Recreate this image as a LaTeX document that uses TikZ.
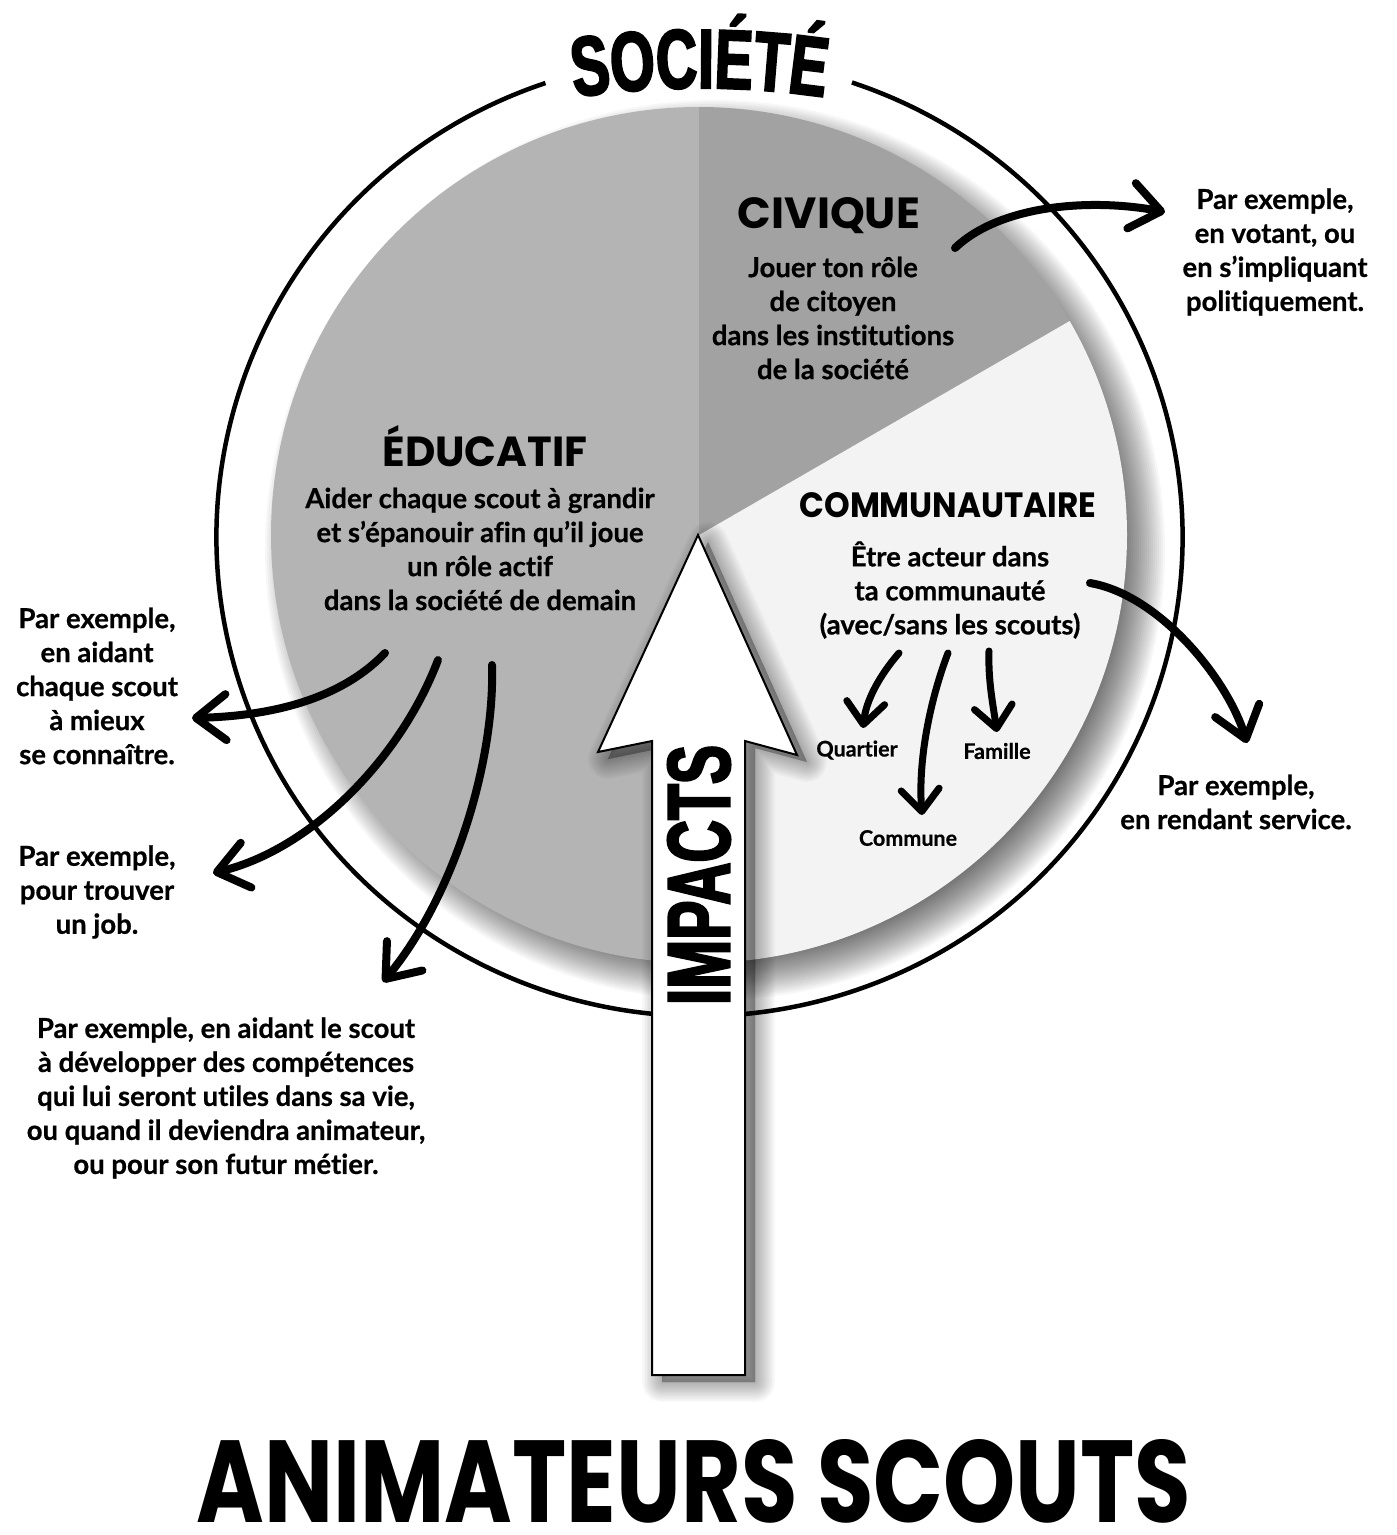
\documentclass[tikz,border=0pt]{standalone}
\usepackage{fontspec}
\usepackage{graphicx}
\setmainfont{Lato}[Ligatures=NoCommon,BoldFeatures={FakeBold=0.6}]
\newfontfamily\impfont[FakeStretch=0.68,FakeBold=2.5]{Liberation Sans}
\newfontfamily\handfont{Poppins}
\usetikzlibrary{arrows.meta,decorations.text}
\definecolor{educol}{HTML}{B4B4B4}
\definecolor{civcol}{HTML}{A2A2A2}
\definecolor{comcol}{HTML}{F3F3F3}
\tikzset{
  body/.style={font=\bfseries\fontsize{27.5}{34}\selectfont, align=center, inner sep=0pt},
  smalllbl/.style={font=\bfseries\fontsize{21.5}{26}\selectfont, inner sep=0pt},
  bigcurve/.style={line width=8pt, line cap=round, line join=round,
    -{Straight Barb[length=30pt,width=46pt,round]}},
  smallcurve/.style={line width=7pt, line cap=round, line join=round,
    -{Straight Barb[length=22pt,width=38pt,round]}},
  ring/.style={line width=4.5pt},
  bigarrow/.style={draw=black, fill=white, line width=2pt, line join=miter},
  title/.style={inner sep=0pt}
}
\begin{document}
\begin{tikzpicture}[x=1pt,y=1pt]
\useasboundingbox (0,0) rectangle (1397,-1535);
\fill[white] (0,0) rectangle (1397,-1535);

% pie shadow
\foreach \k in {0,...,25}{
  \fill[black,opacity=0.03] (715,-550) circle ({400+2*\k});
}
% pie
\coordinate (P) at (699,-535);
\fill[educol] (P) -- ++(90:428) arc[start angle=90,end angle=270,radius=428] -- cycle;
\fill[civcol] (P) -- ++(30:428) arc[start angle=30,end angle=90,radius=428] -- cycle;
\fill[comcol] (P) -- ++(-90:428) arc[start angle=-90,end angle=30,radius=428] -- cycle;

% outer ring
\draw[ring] (699.5,-537) ++(108.6:483 and 479) arc[start angle=108.6,end angle=431.6,x radius=483,y radius=479];

% SOCIETE
\path[decorate,decoration={text along path,text align=center,
  text={|\impfont\bfseries\fontsize{84}{84}\selectfont|SOCIÉTÉ}}]
  (699.5,-948) ++(101:860) arc[start angle=101,end angle=79,radius=860];

% big arrow shadow
\foreach \w in {40,37,...,1}{
  \filldraw[black,opacity=0.025,line width=\w pt,line join=round,shift={(10,-7)}]
    (698,-535) -- (797,-755) -- (745,-741) -- (745,-1375) -- (652,-1375) -- (652,-741) -- (598,-752) -- cycle;
}
\path[bigarrow] (698,-535) -- (797,-755) -- (745,-741) -- (745,-1375) -- (652,-1375) -- (652,-741) -- (598,-752) -- cycle;
\node[title,rotate=90] (impacts) at (699,-875) {\resizebox{260pt}{62pt}{\impfont\bfseries IMPACTS}};

% titles
\node[title] (civtitle) at (829,-216) {\resizebox{182pt}{31pt}{\handfont\bfseries CIVIQUE}};
\node[title] (edutitle) at (485,-446) {\resizebox{205pt}{41pt}{\handfont\bfseries ÉDUCATIF}};
\node[title] (comtitle) at (948,-505) {\resizebox{297pt}{25pt}{\handfont\bfseries COMMUNAUTAIRE}};
\node[title,anchor=base] (anim) at (694,-1522) {\resizebox{994pt}{83pt}{\handfont\bfseries ANIMATEURS SCOUTS}};

% texts in pie
\node[body] (civtxt) at (833,-318) {Jouer ton rôle\\de citoyen\\dans les institutions\\de la société};
\node[body] (edutxt) at (480,-549) {Aider chaque scout à grandir\\et s’épanouir afin qu’il joue\\un rôle actif\\dans la société de demain};
\node[body] (comtxt) at (950,-590) {Être acteur dans\\ta communauté\\(avec/sans les scouts)};
\node[smalllbl] (quartier) at (857,-750) {Quartier};
\node[smalllbl] (famille) at (997,-751) {Famille};
\node[smalllbl] (commune) at (908,-838) {Commune};

% outside texts
\node[body] (exciv) at (1275,-252) {Par exemple,\\en votant, ou\\en s’impliquant\\politiquement.};
\node[body] (excom) at (1236,-802) {Par exemple,\\en rendant service.};
\node[body] (exedu1) at (97,-686) {Par exemple,\\en aidant\\chaque scout\\à mieux\\se connaître.};
\node[body] (exedu2) at (97,-892) {Par exemple,\\pour trouver\\un job.};
\node[body] (exedu3) at (226,-1098) {Par exemple, en aidant le scout\\à développer des compétences\\qui lui seront utiles dans sa vie,\\ou quand il deviendra animateur,\\ou pour son futur métier.};

% connector end points
\coordinate (a1s) at (955,-248);  \coordinate (a1e) at (1165,-212);
\coordinate (a2s) at (1090,-583); \coordinate (a2e) at (1247,-743);
\coordinate (a3s) at (899,-653);  \coordinate (a3e) at (863,-728);
\coordinate (a4s) at (948,-653);  \coordinate (a4e) at (922,-815);
\coordinate (a5s) at (989,-651);  \coordinate (a5e) at (997,-732);
\coordinate (a6s) at (385,-653);  \coordinate (a6e) at (192,-718);
\coordinate (a7s) at (438,-660);  \coordinate (a7e) at (213,-873);
\coordinate (a8s) at (492,-665);  \coordinate (a8e) at (383,-982);

\draw[bigcurve] (a1s) .. controls (1000,-205) and (1090,-198) .. (a1e);
\draw[bigcurve] (a2s) .. controls (1160,-595) and (1228,-680) .. (a2e);
\draw[smallcurve] (a3s) .. controls (880,-675) and (866,-700) .. (a3e);
\draw[smallcurve] (a4s) .. controls (930,-700) and (918,-760) .. (a4e);
\draw[smallcurve] (a5s) .. controls (988,-680) and (993,-705) .. (a5e);
\draw[bigcurve] (a6s) .. controls (340,-700) and (270,-716) .. (a6e);
\draw[bigcurve] (a7s) .. controls (400,-760) and (310,-850) .. (a7e);
\draw[bigcurve] (a8s) .. controls (495,-760) and (455,-895) .. (a8e);
\end{tikzpicture}
\end{document}
